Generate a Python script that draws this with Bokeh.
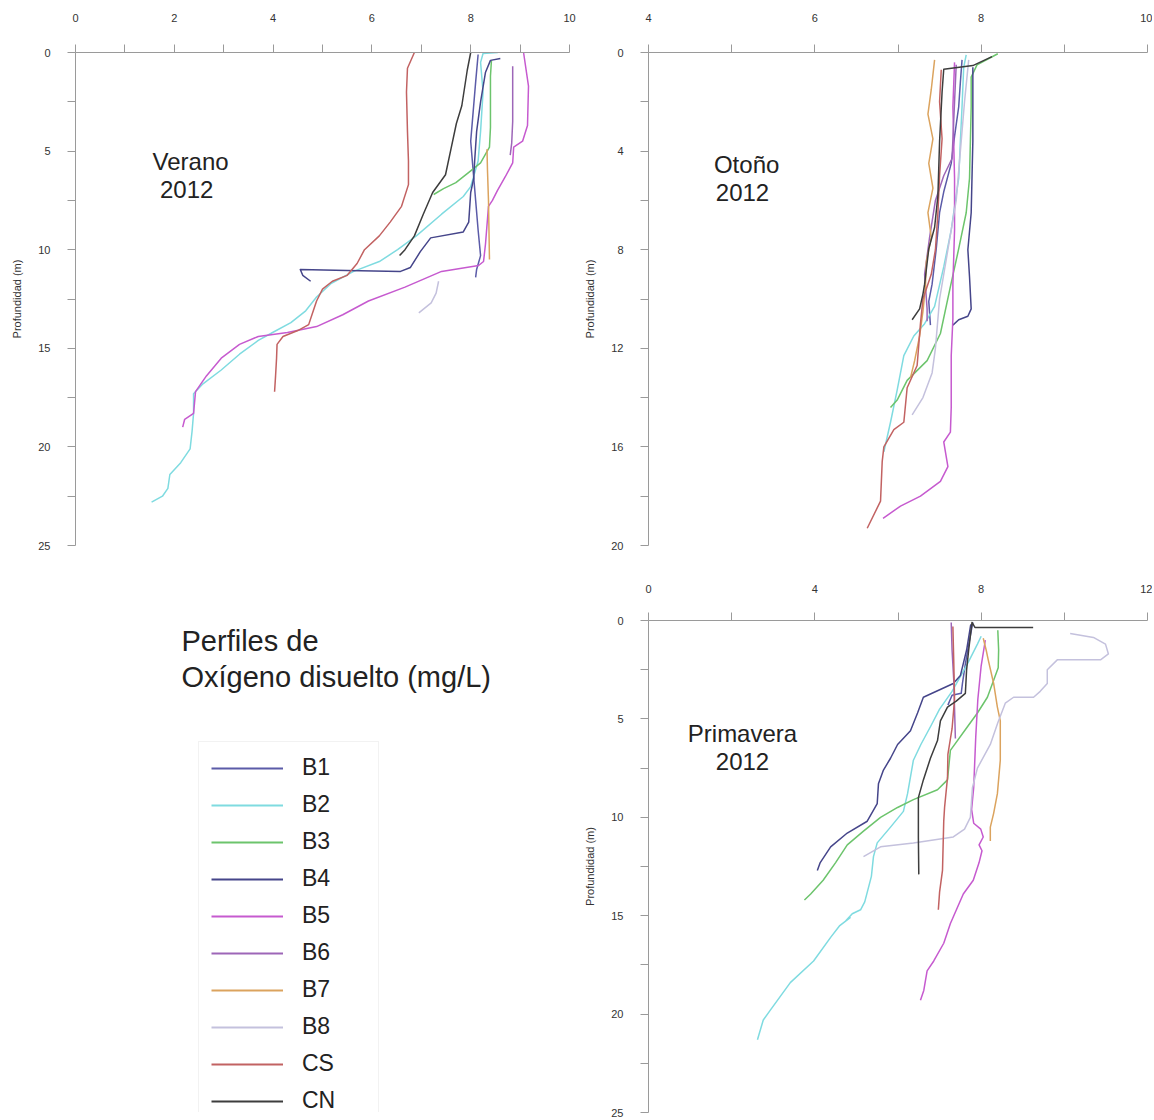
from bokeh.plotting import figure
from bokeh.models import Range1d, FixedTicker, Legend, LegendItem
from bokeh.layouts import row, column
from bokeh.core.properties import value
from bokeh.embed import file_html
from bokeh.resources import INLINE

FONT = "Liberation Sans"

# ---------------- data ----------------
stations = ["B1", "B2", "B3", "B4", "B5", "B6", "B7", "B8", "CS", "CN"]
station_colors = ["#5b5ba8", "#7fdbe0", "#6cc46c", "#45458a", "#c65acf",
                  "#9d66b8", "#dba35e", "#c4c1dd", "#c26262", "#3d3d3d"]

title_lines = ["Perfiles de", "Oxígeno disuelto (mg/L)"]
season_names = ["Verano", "Otoño", "Primavera"]
year_label = "2012"
depth_label = "Profundidad (m)"

# Verano 2012 : (oxígeno mg/L, profundidad m)
verano_B1 = [(8.15, 0.1), (8.1, 1.5), (8.05, 3.0), (8.0, 4.5), (8.05, 6.0), (8.1, 7.5),
             (8.15, 9.0), (8.2, 10.3), (8.12, 11.0), (8.1, 11.4)]
verano_B2 = [(8.55, 0.0), (8.25, 0.05), (8.2, 0.5), (8.25, 2.0), (8.2, 4.0), (8.15, 5.5),
             (8.0, 6.8), (7.85, 7.3), (7.41, 8.2), (6.9, 9.3), (6.52, 10.0), (6.15, 10.6),
             (5.63, 11.1), (5.18, 11.7), (4.88, 12.4), (4.66, 13.1), (4.36, 13.7), (3.99, 14.2),
             (3.7, 14.6), (3.32, 15.3), (2.95, 16.1), (2.58, 16.8), (2.39, 17.3), (2.39, 18.3),
             (2.36, 19.2), (2.32, 20.1), (2.13, 20.8), (1.91, 21.4), (1.87, 22.1), (1.76, 22.5),
             (1.54, 22.8)]
verano_B3 = [(8.42, 0.4), (8.4, 1.2), (8.4, 2.5), (8.4, 3.8), (8.38, 4.8), (8.2, 5.6),
             (8.0, 6.0), (7.7, 6.6), (7.45, 6.9), (7.25, 7.2)]
verano_B4 = [(8.6, 0.3), (8.4, 0.4), (8.3, 1.0), (8.2, 2.5), (8.12, 4.0), (8.08, 5.5),
             (8.06, 6.4), (8.0, 7.1), (7.96, 8.6), (7.85, 9.1), (7.19, 9.4), (6.98, 10.1),
             (6.78, 10.9), (6.58, 11.1), (5.5, 11.05), (4.55, 11.0), (4.6, 11.3), (4.76, 11.6)]
verano_B5 = [(9.07, 0.0), (9.17, 1.7), (9.15, 3.7), (9.05, 4.5), (8.87, 4.8), (8.85, 5.6),
             (8.7, 6.3), (8.54, 7.0), (8.44, 7.5), (8.36, 7.8), (8.3, 9.7), (8.26, 10.6),
             (8.16, 10.8), (7.41, 11.1), (6.67, 11.9), (5.93, 12.6), (5.41, 13.3), (4.88, 13.9),
             (4.29, 14.2), (3.7, 14.4), (3.32, 14.8), (2.95, 15.5), (2.65, 16.4), (2.43, 17.2),
             (2.39, 18.3), (2.21, 18.6), (2.17, 19.0)]
verano_B6 = [(8.85, 0.7), (8.85, 2.0), (8.85, 3.5), (8.83, 4.6), (8.8, 5.2)]
verano_B7 = [(8.33, 4.9), (8.34, 6.0), (8.36, 7.5), (8.37, 9.0), (8.38, 10.5)]
verano_B8 = [(7.35, 11.6), (7.3, 12.2), (7.2, 12.7), (7.05, 13.0), (6.95, 13.2)]
verano_CS = [(6.86, 0.0), (6.72, 0.8), (6.7, 2.0), (6.72, 4.0), (6.74, 5.5), (6.74, 6.7),
             (6.6, 7.8), (6.37, 8.6), (6.15, 9.3), (5.85, 10.0), (5.7, 10.7), (5.5, 11.3),
             (5.2, 11.6), (5.0, 12.0), (4.88, 12.6), (4.8, 13.2), (4.72, 13.8), (4.5, 14.1),
             (4.2, 14.4), (4.08, 14.8), (4.07, 15.5), (4.05, 16.4), (4.03, 17.2)]
verano_CN = [(8.0, 0.0), (7.93, 0.9), (7.82, 2.7), (7.71, 3.6), (7.6, 4.9), (7.49, 6.2),
             (7.23, 7.1), (7.04, 8.2), (6.86, 9.3), (6.67, 10.0), (6.56, 10.3)]

# Otoño 2012
otono_B1 = [(7.77, 0.3), (7.75, 1.2), (7.73, 2.2), (7.68, 3.4), (7.64, 4.5), (7.55, 5.65),
            (7.5, 6.5), (7.46, 7.96), (7.41, 9.4), (7.37, 10.1), (7.39, 11.06)]
otono_B2 = [(7.82, 0.1), (7.79, 0.6), (7.77, 2.2), (7.75, 3.6), (7.73, 5.1), (7.64, 7.2),
            (7.55, 8.7), (7.44, 10.3), (7.32, 11.0), (7.19, 11.5), (7.07, 12.3), (6.99, 13.7),
            (6.91, 15.0), (6.83, 16.2)]
otono_B3 = [(8.2, 0.05), (7.95, 0.5), (7.88, 1.0), (7.88, 2.2), (7.86, 5.1), (7.82, 6.5),
            (7.73, 7.96), (7.63, 9.5), (7.51, 11.4), (7.35, 12.5), (7.11, 13.3), (6.99, 14.1),
            (6.91, 14.4)]
otono_B4 = [(7.9, 0.6), (7.9, 2.0), (7.9, 3.6), (7.88, 6.5), (7.84, 8.0), (7.86, 9.1),
            (7.88, 10.4), (7.84, 10.7), (7.73, 10.84), (7.66, 11.06)]
otono_B5 = [(7.68, 0.4), (7.66, 2.2), (7.68, 5.1), (7.68, 7.2), (7.66, 9.4), (7.66, 10.8),
            (7.64, 12.3), (7.64, 14.4), (7.63, 15.4), (7.55, 15.8), (7.6, 16.8), (7.51, 17.4),
            (7.27, 18.0), (7.03, 18.4), (6.82, 18.9)]
otono_B6 = [(7.7, 0.5), (7.68, 2.0), (7.65, 4.3), (7.55, 5.0), (7.45, 6.0), (7.38, 7.5),
            (7.32, 9.0), (7.35, 10.4), (7.35, 10.9)]
otono_B7 = [(7.44, 0.3), (7.4, 1.5), (7.36, 2.5), (7.42, 3.5), (7.37, 4.5), (7.42, 5.5),
            (7.36, 6.5), (7.4, 7.5), (7.34, 8.5), (7.33, 9.5), (7.3, 10.5), (7.26, 11.5),
            (7.2, 12.5), (7.15, 13.2)]
otono_B8 = [(7.85, 0.3), (7.8, 2.0), (7.75, 4.0), (7.7, 6.0), (7.6, 8.0), (7.5, 10.0),
            (7.45, 12.0), (7.41, 13.0), (7.3, 14.0), (7.17, 14.7)]
otono_CS = [(7.52, 0.7), (7.5, 2.0), (7.53, 3.5), (7.5, 5.0), (7.48, 6.5), (7.45, 8.0),
            (7.4, 9.0), (7.3, 10.0), (7.27, 11.0), (7.23, 12.7), (7.11, 13.6), (7.07, 15.0),
            (6.95, 15.3), (6.83, 16.0), (6.81, 16.6), (6.79, 18.2), (6.63, 19.3)]
otono_CN = [(8.13, 0.17), (7.9, 0.53), (7.55, 0.68), (7.53, 1.6), (7.5, 3.6), (7.48, 5.8),
            (7.44, 7.1), (7.37, 7.96), (7.32, 9.4), (7.3, 9.8), (7.26, 10.4), (7.17, 10.84)]

# Primavera 2012
primavera_B1 = [(7.8, 0.1), (7.72, 1.0), (7.62, 2.2), (7.55, 3.2), (7.52, 3.7), (7.3, 3.8),
                (7.2, 4.3)]
primavera_B2 = [(8.0, 0.8), (7.91, 1.2), (7.67, 2.2), (7.3, 3.6), (7.0, 4.5), (6.78, 5.4),
                (6.55, 6.3), (6.37, 7.1), (6.23, 8.8), (6.13, 9.7), (5.82, 10.5), (5.5, 11.3),
                (5.41, 12.0), (5.36, 13.0), (5.2, 14.3), (5.1, 14.7), (4.9, 14.9), (4.75, 15.25),
                (4.85, 15.1), (4.6, 15.5), (4.38, 16.1), (3.97, 17.3), (3.41, 18.4), (2.93, 19.8),
                (2.76, 20.3), (2.62, 21.3)]
primavera_B3 = [(8.4, 0.5), (8.42, 1.5), (8.41, 2.4), (8.15, 3.9), (7.91, 4.7), (7.67, 5.4),
                (7.26, 6.6), (7.19, 8.1), (6.95, 8.6), (6.37, 9.1), (5.99, 9.5), (5.58, 10.0),
                (5.17, 10.7), (4.78, 11.4), (4.5, 12.3), (4.2, 13.2), (3.9, 13.9), (3.75, 14.2)]
primavera_B4 = [(7.75, 0.2), (7.65, 1.5), (7.5, 2.8), (7.33, 3.2), (6.61, 3.9), (6.47, 4.7),
                (6.3, 5.6), (5.99, 6.3), (5.82, 7.0), (5.65, 7.6), (5.53, 8.3), (5.5, 9.3),
                (5.26, 10.2), (4.78, 10.8), (4.38, 11.5), (4.13, 12.3), (4.06, 12.7)]
primavera_B5 = [(8.1, 1.0), (8.0, 2.3), (7.92, 4.0), (7.87, 5.9), (7.82, 8.5), (7.77, 9.6),
                (7.82, 10.3), (7.99, 10.6), (8.05, 11.0), (7.95, 11.4), (8.02, 11.7),
                (7.95, 12.3), (7.81, 13.2), (7.57, 13.9), (7.26, 15.4), (7.1, 16.4),
                (6.86, 17.3), (6.7, 17.8), (6.62, 18.8), (6.54, 19.3)]
primavera_B6 = [(7.28, 0.1), (7.3, 1.5), (7.34, 3.0), (7.36, 4.5), (7.38, 6.0)]
primavera_B7 = [(8.05, 0.9), (8.12, 1.5), (8.17, 2.0), (8.3, 3.2), (8.39, 4.4), (8.46, 5.1),
                (8.46, 7.1), (8.39, 8.8), (8.3, 9.8), (8.22, 10.5), (8.22, 11.2)]
primavera_B8 = [(10.14, 0.66), (10.7, 0.86), (10.99, 1.2), (11.06, 1.7), (10.87, 2.0),
                (9.83, 2.0), (9.59, 2.5), (9.59, 3.2), (9.42, 3.6), (9.26, 3.9), (8.78, 3.9),
                (8.58, 4.2), (8.4, 5.2), (8.22, 6.3), (7.91, 7.5), (7.79, 8.5), (7.74, 10.0),
                (7.6, 10.6), (7.33, 11.0), (6.37, 11.3), (5.58, 11.5), (5.17, 12.0)]
primavera_CS = [(7.32, 0.3), (7.34, 2.0), (7.36, 4.0), (7.3, 5.5), (7.2, 6.8), (7.19, 8.0),
                (7.12, 9.5), (7.1, 10.2), (7.07, 12.7), (7.0, 13.8), (6.97, 14.7)]
primavera_CN = [(9.25, 0.35), (7.85, 0.35), (7.78, 0.1), (7.75, 0.6), (7.7, 1.5), (7.65, 2.5),
                (7.62, 3.7), (7.4, 4.1), (7.19, 4.4), (7.02, 5.1), (6.95, 6.1), (6.78, 7.0),
                (6.61, 8.1), (6.49, 9.0), (6.49, 11.0), (6.5, 12.9)]

verano = [verano_B1, verano_B2, verano_B3, verano_B4, verano_B5, verano_B6, verano_B7,
          verano_B8, verano_CS, verano_CN]
otono = [otono_B1, otono_B2, otono_B3, otono_B4, otono_B5, otono_B6, otono_B7,
         otono_B8, otono_CS, otono_CN]
primavera = [primavera_B1, primavera_B2, primavera_B3, primavera_B4, primavera_B5,
             primavera_B6, primavera_B7, primavera_B8, primavera_CS, primavera_CN]

AX_COLOR = "#9a9a9a"
TXT_COLOR = "#333333"


def panel(width, height, xr, yr, xt, xm, yt, ym, borders, xstand, profiles, name, name_xy):
    left, right, top, bottom = borders
    p = figure(width=width, height=height, x_range=Range1d(*xr),
               y_range=Range1d(yr[1], yr[0]), output_backend="svg",
               toolbar_location=None, x_axis_location="above",
               min_border_left=left, min_border_right=right,
               min_border_top=top, min_border_bottom=bottom)
    p.outline_line_color = None
    p.xgrid.visible = False
    p.ygrid.visible = False
    p.background_fill_color = "white"
    p.border_fill_color = "white"
    p.xaxis.ticker = FixedTicker(ticks=xt, minor_ticks=xm)
    p.yaxis.ticker = FixedTicker(ticks=yt, minor_ticks=ym)
    for ax in (p.xaxis, p.yaxis):
        ax.axis_line_color = AX_COLOR
        ax.major_tick_line_color = AX_COLOR
        ax.minor_tick_line_color = AX_COLOR
        ax.major_tick_out = 8
        ax.major_tick_in = 0
        ax.minor_tick_out = 8
        ax.minor_tick_in = 0
        ax.major_label_text_font = FONT
        ax.major_label_text_font_size = "11px"
        ax.major_label_text_color = TXT_COLOR
    p.xaxis.major_label_standoff = xstand
    p.yaxis.major_label_standoff = 17
    p.yaxis.axis_label = depth_label
    p.yaxis.axis_label_text_font = FONT
    p.yaxis.axis_label_text_font_size = "11px"
    p.yaxis.axis_label_text_font_style = "normal"
    p.yaxis.axis_label_text_color = TXT_COLOR
    p.yaxis.axis_label_standoff = 12
    for prof, col in zip(profiles, station_colors):
        p.line([v[0] for v in prof], [v[1] for v in prof], line_color=col,
               line_width=1.5, line_join="round")
    (x1, y1), (x2, y2) = name_xy
    p.text(x=[x1, x2], y=[y1, y2], text=[name, year_label], text_align="center",
           text_baseline="middle", text_font=value(FONT), text_font_size="24px",
           text_color="#222222")
    return p


p1 = panel(578, 553, (0, 10), (0, 25), [0, 2, 4, 6, 8, 10], [1, 3, 5, 7, 9],
           [0, 5, 10, 15, 20, 25], [2.5, 7.5, 12.5, 17.5, 22.5], (75, 9, 52, 8), 23,
           verano, season_names[0], ((2.33, 5.53), (2.25, 6.97)))
p2 = panel(574, 553, (4, 10), (0, 20), [4, 6, 8, 10], [5, 7, 9],
           [0, 4, 8, 12, 16, 20], [2, 6, 10, 14, 18], (70, 5, 52, 8), 23,
           otono, season_names[1], ((5.18, 4.55), (5.13, 5.67)))
p3 = panel(574, 567, (0, 12), (0, 25), [0, 4, 8, 12], [2, 6, 10],
           [0, 5, 10, 15, 20, 25], [2.5, 7.5, 12.5, 17.5, 22.5], (70, 5, 67, 8), 20,
           primavera, season_names[2], ((2.26, 5.74), (2.26, 7.16)))

# ---------------- title + legend panel ----------------
# frame is aligned with the Primavera frame; ranges are in frame pixels
p0 = figure(width=578, height=567, x_range=Range1d(0, 578), y_range=Range1d(492, 0),
            output_backend="svg", toolbar_location=None,
            x_axis_location=None, y_axis_location=None,
            min_border_left=0, min_border_right=0, min_border_top=67, min_border_bottom=8)
p0.outline_line_color = None
p0.xgrid.visible = False
p0.ygrid.visible = False
p0.text(x=[181, 181], y=[20, 56], text=title_lines, text_align="left",
        text_baseline="middle", text_font=value(FONT), text_font_size="29px",
        text_color="#222222")
nan = float("nan")
items = []
for s, col in zip(stations, station_colors):
    r = p0.line(x=[nan, nan], y=[nan, nan], line_color=col, line_width=2.2)
    items.append(LegendItem(label=s, renderers=[r]))
leg = Legend(items=items, location=(198, -15), glyph_width=72, glyph_height=26,
             label_height=26, label_width=64, spacing=10, padding=12, label_standoff=19,
             label_text_font=FONT, label_text_font_size="23px",
             label_text_color="#222222", border_line_color="#e6e6e6",
             background_fill_color="white", background_fill_alpha=1.0, margin=0)
p0.add_layout(leg)

layout = column(row(p1, p2), row(p0, p3))
open("out.html", "w").write(file_html(layout, INLINE))
